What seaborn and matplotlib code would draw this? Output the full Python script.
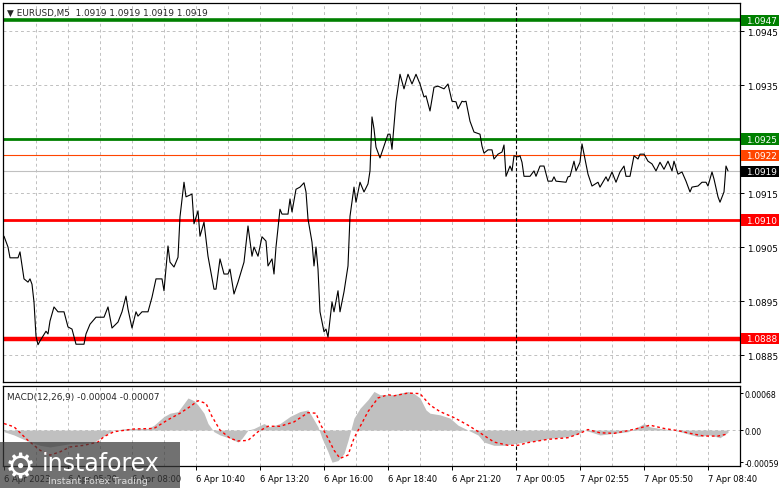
import numpy as np
import pandas as pd
import matplotlib
matplotlib.use("Agg")
import matplotlib.pyplot as plt
import seaborn as sns
from matplotlib.patches import Rectangle

# ---- price line (M5 closes, bar index -> price) ----
price_bar = [
    0, 2, 3, 7, 8, 10, 12, 13, 14, 15,
    16, 17, 18, 21, 22, 23, 25, 27, 30, 32,
    34, 36, 40, 41, 43, 46, 50, 52, 54, 57,
    59, 61, 62, 64, 66, 67, 69, 72, 74, 76,
    79, 80, 82, 83, 85, 87, 88, 90, 91, 94,
    95, 97, 98, 100, 102, 105, 106, 108, 110, 112,
    113, 115, 117, 120, 122, 124, 125, 127, 129, 131,
    132, 134, 135, 136, 138, 139, 142, 143, 144, 146,
    148, 150, 151, 152, 154, 155, 156, 157, 158, 160,
    161, 162, 164, 165, 167, 168, 170, 172, 173, 175,
    176, 178, 180, 182, 183, 184, 185, 186, 188, 190,
    192, 193, 194, 196, 198, 200, 202, 204, 206, 208,
    210, 211, 213, 215, 217, 220, 222, 224, 226, 227,
    229, 230, 231, 233, 235, 238, 239, 240, 242, 244,
    245, 247, 249, 250, 251, 253, 254, 255, 257, 258,
    259, 260, 263, 265, 266, 268, 270, 272, 274, 275,
    276, 281, 282, 283, 285, 286, 288, 289, 290, 292,
    294, 297, 298, 301, 302, 304, 306, 308, 310, 311,
    313, 315, 317, 318, 320, 322, 324, 326, 328, 330,
    332, 334, 335, 337, 339, 341, 343, 344, 347, 349,
    351, 352, 354, 355, 357, 358, 360, 361, 362,
]
price_close = [
    1.09070, 1.09050, 1.09030, 1.09030, 1.09041, 1.08991, 1.08985, 1.08991, 1.08981, 1.08948,
    1.08885, 1.08869, 1.08876, 1.08894, 1.08889, 1.08913, 1.08939, 1.08930, 1.08930, 1.08902,
    1.08898, 1.08870, 1.08870, 1.08889, 1.08907, 1.08920, 1.08920, 1.08939, 1.08900, 1.08911,
    1.08930, 1.08959, 1.08935, 1.08900, 1.08930, 1.08922, 1.08930, 1.08930, 1.08957, 1.08991,
    1.08991, 1.08969, 1.09052, 1.09022, 1.09013, 1.09031, 1.09106, 1.09170, 1.09143, 1.09148,
    1.09093, 1.09117, 1.09070, 1.09096, 1.09033, 1.08972, 1.08972, 1.09028, 1.09000, 1.09000,
    1.09009, 1.08963, 1.08985, 1.09022, 1.09089, 1.09033, 1.09050, 1.09033, 1.09069, 1.09061,
    1.09015, 1.09028, 1.09000, 1.09050, 1.09120, 1.09111, 1.09111, 1.09139, 1.09115, 1.09157,
    1.09161, 1.09169, 1.09152, 1.09102, 1.09059, 1.09015, 1.09050, 1.09009, 1.08930, 1.08893,
    1.08898, 1.08883, 1.08948, 1.08930, 1.08969, 1.08930, 1.08967, 1.09015, 1.09107, 1.09161,
    1.09133, 1.09170, 1.09152, 1.09167, 1.09191, 1.09291, 1.09269, 1.09235, 1.09215, 1.09237,
    1.09259, 1.09259, 1.09231, 1.09319, 1.09370, 1.09343, 1.09370, 1.09352, 1.09370, 1.09352,
    1.09328, 1.09330, 1.09302, 1.09346, 1.09348, 1.09343, 1.09352, 1.09320, 1.09319, 1.09306,
    1.09320, 1.09319, 1.09320, 1.09283, 1.09263, 1.09259, 1.09237, 1.09224, 1.09230, 1.09230,
    1.09213, 1.09222, 1.09226, 1.09239, 1.09181, 1.09200, 1.09191, 1.09219, 1.09217, 1.09219,
    1.09207, 1.09181, 1.09181, 1.09191, 1.09181, 1.09200, 1.09200, 1.09172, 1.09172, 1.09180,
    1.09172, 1.09170, 1.09180, 1.09181, 1.09209, 1.09191, 1.09207, 1.09241, 1.09222, 1.09185,
    1.09163, 1.09170, 1.09161, 1.09180, 1.09172, 1.09189, 1.09170, 1.09189, 1.09200, 1.09181,
    1.09181, 1.09219, 1.09213, 1.09222, 1.09222, 1.09209, 1.09204, 1.09191, 1.09207, 1.09194,
    1.09209, 1.09191, 1.09209, 1.09185, 1.09189, 1.09172, 1.09152, 1.09161, 1.09163, 1.09170,
    1.09170, 1.09163, 1.09189, 1.09176, 1.09143, 1.09133, 1.09152, 1.09200, 1.09191,
]

# ---- MACD(12,26,9) ----
hist_bar = [
    0, 5, 8, 13, 18, 23, 28, 33, 40, 45,
    48, 52, 55, 62, 72, 75, 80, 83, 87, 90,
    92, 95, 97, 100, 102, 105, 108, 113, 117, 119,
    122, 125, 130, 133, 138, 143, 148, 152, 154, 157,
    159, 162, 164, 167, 170, 172, 175, 178, 182, 185,
    188, 195, 198, 202, 205, 208, 211, 213, 218, 223,
    227, 232, 237, 240, 245, 250, 255, 260, 267, 273,
    282, 287, 290, 293, 298, 305, 312, 317, 320, 323,
    328, 335, 340, 347, 353, 358, 362,
]
hist_val = [
    -0.00003, -0.00009, -0.00014, -0.00022, -0.00028, -0.00031, -0.00028, -0.00025, -0.00025, -0.00022,
    -0.00015, -0.00006, 0.0, 0.00003, 0.00003, 0.00009, 0.00025, 0.00031, 0.00034, 0.00049,
    0.00059, 0.00054, 0.00046, 0.00031, 0.00012, -0.00003, -0.00009, -0.00015, -0.00022, -0.00015,
    0.0, 0.00003, 0.00012, 0.00006, 0.00012, 0.00025, 0.00034, 0.00037, 0.00025, 0.00006,
    -0.00015, -0.00040, -0.00059, -0.00056, -0.00043, -0.00019, 0.00022, 0.00040, 0.00056, 0.00071,
    0.00065, 0.00065, 0.00068, 0.00071, 0.00067, 0.00059, 0.00037, 0.00031, 0.00028, 0.00022,
    0.00009, 0.0, -0.00009, -0.00022, -0.00028, -0.00028, -0.00025, -0.00022, -0.00019, -0.00015,
    -0.00012, -0.00007, 0.0, -0.00003, -0.00009, -0.00006, -0.00003, 0.00006, 0.00012, 0.00006,
    0.00003, 0.0, -0.00005, -0.00012, -0.00009, -0.00014, -0.00004,
]
sig_bar = [
    0, 5, 12, 18, 23, 28, 33, 40, 47, 50,
    55, 65, 75, 82, 88, 93, 97, 101, 104, 108,
    113, 117, 122, 127, 132, 138, 145, 152, 156, 158,
    162, 165, 168, 172, 175, 178, 182, 187, 192, 195,
    202, 208, 213, 218, 225, 232, 238, 245, 252, 257,
    262, 272, 282, 288, 292, 298, 305, 312, 318, 323,
    330, 337, 343, 350, 357, 362,
]
sig_val = [
    0.00012, 0.00006, -0.00019, -0.00037, -0.00046, -0.00040, -0.00031, -0.00028, -0.00022, -0.00012,
    -0.00003, 0.00002, 0.00003, 0.00019, 0.00031, 0.00043, 0.00054, 0.00049, 0.00025, 0.0,
    -0.00015, -0.00020, -0.00019, -0.00003, 0.00007, 0.00007, 0.00015, 0.00032, 0.00031, 0.00012,
    -0.00015, -0.00037, -0.00052, -0.00046, -0.00015, 0.00006, 0.00034, 0.00059, 0.00065, 0.00063,
    0.00068, 0.00067, 0.00046, 0.00034, 0.00023, 0.00009, -0.00005, -0.00022, -0.00028, -0.00028,
    -0.00023, -0.00017, -0.00014, -0.00006, 0.00001, -0.00005, -0.00006, -0.00001, 0.00004, 0.00009,
    0.00003, -0.00001, -0.00006, -0.00011, -0.00011, -0.00007,
]

# ---- horizontal levels ----
level_price = [1.0947, 1.0925, 1.0922, 1.0919, 1.0910, 1.0888]
level_text = ["1.0947", "1.0925", "1.0922", "1.0919", "1.0910", "1.0888"]
level_color = ["#008000", "#008000", "#ff4500", "#c0c0c0", "#ff0000", "#ff0000"]
level_box = ["#008000", "#008000", "#ff4500", "#000000", "#ff0000", "#ff0000"]
level_width = [2.6, 2.0, 0.8, 0.8, 2.0, 3.2]

price_ticks = [1.0885, 1.0895, 1.0905, 1.0915, 1.0925, 1.0935, 1.0945]
price_tick_labels = ["1.0885", "1.0895", "1.0905", "1.0915", "", "1.0935", "1.0945"]
macd_ticks = [0.00068, 0.0, -0.00059]
macd_tick_labels = ["0.00068", "0.00", "-0.00059"]

time_bar = [0, 32, 64, 96, 128, 160, 192, 224, 256, 288, 320, 352]
time_labels = ["6 Apr 2023", "6 Apr 05:20", "6 Apr 08:00", "6 Apr 10:40", "6 Apr 13:20",
               "6 Apr 16:00", "6 Apr 18:40", "6 Apr 21:20", "7 Apr 00:05", "7 Apr 02:55",
               "7 Apr 05:50", "7 Apr 08:40"]
separator_bar = 256

price_df = pd.DataFrame({"bar": price_bar, "close": price_close})
hist_df = pd.DataFrame({"bar": hist_bar, "hist": hist_val})
sig_df = pd.DataFrame({"bar": sig_bar, "signal": sig_val})

sns.set_style("white")
plt.rcParams["font.family"] = ["DejaVu Sans"]

W, H = 781, 489
fig = plt.figure(figsize=(W / 100, H / 100), dpi=100)
ax = fig.add_axes([3 / W, 106 / H, 737 / W, 379 / H])
ax2 = fig.add_axes([3 / W, 22 / H, 737 / W, 80 / H])

grid_kw = dict(color="#c0c0c0", lw=0.7, ls=(0, (3, 3)))
grid_bars = list(range(16, 369, 16))

# ---- main price panel ----
for b in grid_bars:
    ax.axvline(b, zorder=0, **grid_kw)
for p in price_ticks:
    ax.axhline(p, zorder=0, **grid_kw)

for p, c, w in zip(level_price, level_color, level_width):
    ax.axhline(p, color=c, lw=w, zorder=2)

ax.axvline(separator_bar, color="black", lw=0.8, ls=(0, (3, 2)), zorder=2)

sns.lineplot(data=price_df, x="bar", y="close", ax=ax, color="black", lw=0.8,
             estimator=None, sort=False, zorder=3)

ax.set_xlim(-0.5, 368)
ax.set_ylim(1.0880, 1.09502)
ax.set_xticks([])
ax.set_xlabel("")
ax.set_ylabel("")
ax.yaxis.tick_right()
ax.set_yticks(price_ticks)
ax.set_yticklabels(price_tick_labels)
ax.tick_params(axis="y", labelsize=6.4, length=3, width=0.7, pad=2, colors="black")

for p, t, bc in zip(level_price, level_text, level_box):
    ax.add_patch(Rectangle((1.002, p - 0.000105), 0.051, 0.00021,
                           transform=ax.get_yaxis_transform(), facecolor=bc,
                           edgecolor="none", clip_on=False, zorder=5))
    ax.text(1.008, p, t, transform=ax.get_yaxis_transform(), color="white",
            fontsize=6.4, va="center", ha="left", zorder=6, clip_on=False)

ax.text(0.006, 0.988, "\u25bc EURUSD,M5  1.0919 1.0919 1.0919 1.0919",
        transform=ax.transAxes, fontsize=6.4, va="top", ha="left", zorder=6)

for s in ax.spines.values():
    s.set_color("black")
    s.set_linewidth(0.9)

# ---- MACD panel ----
for b in grid_bars:
    ax2.axvline(b, zorder=0, **grid_kw)
ax2.axhline(0, zorder=0, **grid_kw)
ax2.axvline(separator_bar, color="black", lw=0.8, ls=(0, (3, 2)), zorder=1)

ax2.fill_between(hist_df["bar"], 0, hist_df["hist"], color="#c0c0c0", lw=0, zorder=2)
sns.lineplot(data=sig_df, x="bar", y="signal", ax=ax2, color="red", lw=1.0,
             ls=(0, (2, 2)), estimator=None, sort=False, zorder=3)

ax2.set_xlim(-0.5, 368)
ax2.set_ylim(-0.00066, 0.00081)
ax2.set_xlabel("")
ax2.set_ylabel("")
ax2.yaxis.tick_right()
ax2.set_yticks(macd_ticks)
ax2.set_yticklabels(macd_tick_labels)
ax2.tick_params(axis="y", labelsize=5.6, length=2, width=0.7, pad=1.5, colors="black")
ax2.set_xticks(time_bar)
ax2.set_xticklabels(time_labels)
ax2.tick_params(axis="x", labelsize=6.0, length=3, width=0.7, pad=3, colors="black",
                direction="out", bottom=True)
for lbl in ax2.get_xticklabels():
    lbl.set_ha("left")

ax2.text(0.005, 0.93, "MACD(12,26,9) -0.00004 -0.00007", transform=ax2.transAxes,
         fontsize=6.4, va="top", ha="left", zorder=6)

for s in ax2.spines.values():
    s.set_color("black")
    s.set_linewidth(0.9)

# ---- watermark ----
fig.patches.append(Rectangle((0, 0), 180 / W, 46 / H, transform=fig.transFigure,
                             facecolor="#3a3a3a", alpha=0.72, edgecolor="none", zorder=10))
fig.text(5 / W, 20 / H, "\u2699", fontsize=25, color="white", va="center", ha="left", zorder=11)
fig.text(42 / W, 25 / H, "instaforex", fontsize=17, color="white", va="center", ha="left",
         zorder=11)
fig.text(48 / W, 7 / H, "Instant Forex Trading", fontsize=6.8, color="#dddddd", va="center",
         ha="left", zorder=11)

fig.savefig("out.png", dpi=100, facecolor="white")
